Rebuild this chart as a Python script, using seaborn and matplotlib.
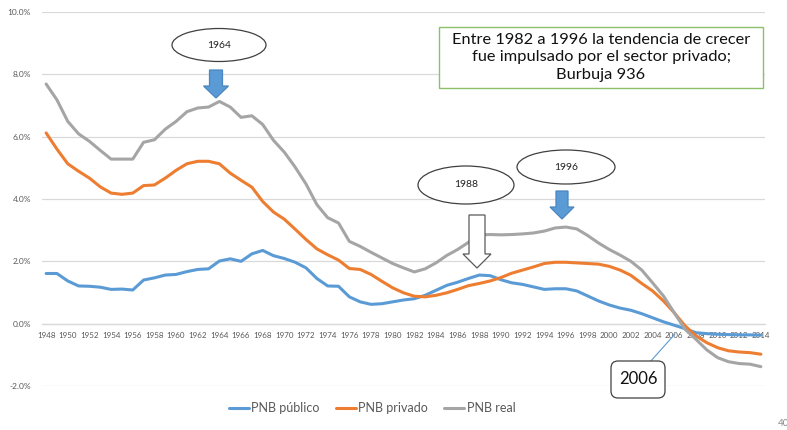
import numpy as np
import pandas as pd
import matplotlib
matplotlib.use("Agg")
import matplotlib.pyplot as plt
from matplotlib.patches import Ellipse, Polygon, Rectangle, FancyBboxPatch
from matplotlib.lines import Line2D
import seaborn as sns

# ---------------- data ----------------
years = list(range(1948, 2015))

pnb_publico = [
    1.61, 1.61, 1.37, 1.21, 1.20, 1.17, 1.10, 1.11, 1.08, 1.40,   # 1948-1957
    1.47, 1.56, 1.58, 1.67, 1.74, 1.76, 2.01, 2.08, 2.00, 2.24,   # 1958-1967
    2.35, 2.18, 2.09, 1.97, 1.79, 1.45, 1.21, 1.20, 0.86, 0.70,   # 1968-1977
    0.62, 0.64, 0.70, 0.76, 0.80, 0.91, 1.07, 1.23, 1.33, 1.45,   # 1978-1987
    1.56, 1.54, 1.41, 1.31, 1.26, 1.18, 1.10, 1.12, 1.12, 1.05,   # 1988-1997
    0.89, 0.73, 0.60, 0.50, 0.43, 0.32, 0.19, 0.06, -0.05, -0.16, # 1998-2007
    -0.29, -0.32, -0.34, -0.35, -0.36, -0.36, -0.37,              # 2008-2014
]
pnb_privado = [
    6.12, 5.60, 5.13, 4.89, 4.67, 4.39, 4.19, 4.15, 4.19, 4.43,
    4.45, 4.67, 4.92, 5.13, 5.21, 5.21, 5.13, 4.83, 4.60, 4.38,
    3.92, 3.58, 3.35, 3.03, 2.70, 2.40, 2.21, 2.04, 1.77, 1.74,
    1.58, 1.36, 1.15, 0.99, 0.88, 0.86, 0.91, 0.99, 1.10, 1.22,
    1.29, 1.37, 1.48, 1.62, 1.72, 1.82, 1.93, 1.97, 1.97, 1.95,
    1.93, 1.91, 1.84, 1.72, 1.55, 1.29, 1.05, 0.73, 0.35, -0.07,
    -0.39, -0.61, -0.77, -0.87, -0.91, -0.93, -0.98,
]
pnb_real = [
    7.69, 7.18, 6.49, 6.09, 5.85, 5.56, 5.28, 5.28, 5.28, 5.82,
    5.90, 6.24, 6.49, 6.80, 6.92, 6.95, 7.13, 6.95, 6.62, 6.67,
    6.39, 5.88, 5.50, 5.02, 4.48, 3.82, 3.40, 3.23, 2.64, 2.48,
    2.29, 2.11, 1.93, 1.79, 1.66, 1.76, 1.95, 2.19, 2.38, 2.61,
    2.85, 2.86, 2.85, 2.86, 2.88, 2.91, 2.97, 3.07, 3.10, 3.04,
    2.83, 2.59, 2.38, 2.20, 2.00, 1.72, 1.31, 0.89, 0.35, -0.18,
    -0.50, -0.84, -1.09, -1.22, -1.28, -1.30, -1.38,
]
series_names = ["PNB público", "PNB privado", "PNB real"]
series_colors = ["#5B9BD5", "#ED7D31", "#A5A5A5"]
y_ticks = [-2, 0, 2, 4, 6, 8, 10]
x_ticks = list(range(1948, 2015, 2))

box_text = "Entre 1982 a 1996 la tendencia de crecer\nfue impulsado por el sector privado;\nBurbuja 936"

# ---------------- figure ----------------
sns.set_theme(style="white")
plt.rcParams["font.family"] = ["Lato", "DejaVu Sans"]

W, H = 787, 430
fig = plt.figure(figsize=(W / 100, H / 100), dpi=100)
ax = fig.add_axes([42 / W, 1 - 386 / H, (765 - 42) / W, (386 - 12) / H])

df = pd.DataFrame({
    "year": years * 3,
    "value": pnb_publico + pnb_privado + pnb_real,
    "serie": [series_names[0]] * len(years) + [series_names[1]] * len(years)
             + [series_names[2]] * len(years),
})
sns.lineplot(data=df, x="year", y="value", hue="serie", hue_order=series_names,
             palette=series_colors, linewidth=2.2, ax=ax, legend=False, zorder=3)

# spine position first (it resets the ticks)
for s in ["top", "right", "left"]:
    ax.spines[s].set_visible(False)
ax.spines["bottom"].set_position(("data", 0))
ax.spines["bottom"].set_color("#D9D9D9")
ax.spines["bottom"].set_linewidth(0.9)

ax.set_xlim(1947.62, 2014.38)
ax.set_ylim(-2, 10)
ax.set_yticks(y_ticks)
ax.set_yticklabels([f"{v:.1f}%" for v in y_ticks], fontsize=6, color="#595959")
ax.set_xticks(x_ticks)
ax.set_xticklabels([str(v) for v in x_ticks], fontsize=5.8, color="#595959")
ax.set_xlabel("")
ax.set_ylabel("")
ax.grid(axis="y", color="#D9D9D9", linewidth=0.9)
ax.grid(axis="x", visible=False)
ax.tick_params(axis="both", length=0)
ax.tick_params(axis="x", pad=6)
ax.tick_params(axis="y", pad=8)

# legend
handles = [Line2D([0], [0], color=c, lw=2.2) for c in series_colors]
fig.legend(handles, series_names, loc="center", bbox_to_anchor=(372 / W, 1 - 408 / H),
           ncol=3, frameon=False, fontsize=9, handlelength=1.6, handletextpad=0.2,
           columnspacing=1.3, labelcolor="#595959")

# ---------------- annotations (pixel coords via inches) ----------------
T = fig.dpi_scale_trans


def P(x, y):
    return (x / 100, (H - y) / 100)


def ellipse(cx, cy, w, h, label):
    e = Ellipse(P(cx, cy), w / 100, h / 100, transform=T, facecolor="white",
                edgecolor="#404040", lw=0.9, zorder=10)
    fig.add_artist(e)
    fig.text(*P(cx, cy), label, transform=T, ha="center", va="center",
             fontsize=7.5, color="#222222", zorder=11)


def block_arrow(cx, top, tip, shaft_w, head_w, head_start, fc, ec):
    pts = [P(cx - shaft_w / 2, top), P(cx + shaft_w / 2, top),
           P(cx + shaft_w / 2, head_start), P(cx + head_w / 2, head_start),
           P(cx, tip), P(cx - head_w / 2, head_start), P(cx - shaft_w / 2, head_start)]
    fig.add_artist(Polygon(pts, closed=True, transform=T, facecolor=fc,
                           edgecolor=ec, lw=0.9, zorder=10))


ellipse(219, 45, 94, 33, "1964")
block_arrow(216, 70, 98, 13, 25, 86, "#5B9BD5", "#4A86C0")

ellipse(466, 185, 96, 38, "1988")
block_arrow(477, 215, 268, 16, 28, 254, "white", "#595959")

ellipse(566, 167, 98, 34, "1996")
block_arrow(562, 191, 219, 12, 24, 207, "#5B9BD5", "#4A86C0")

# green text box
x0, y0, x1, y1 = 439, 27, 763, 88
fig.add_artist(Rectangle(P(x0, y1), (x1 - x0) / 100, (y1 - y0) / 100, transform=T,
                         facecolor="white", edgecolor="#8CC06A", lw=1.0, zorder=10))
fig.text(*P((x0 + x1) / 2, (y0 + y1) / 2), box_text, transform=T, ha="center",
         va="center", fontsize=11.8, color="#111111", linespacing=1.33, zorder=11)

# 2006 callout
fig.add_artist(Line2D([650 / 100, 675 / 100], [(H - 362) / 100, (H - 334) / 100],
                      transform=T, color="#5B9BD5", lw=0.8, zorder=9))
bx0, by0, bx1, by1 = 611, 361, 665, 398
fig.add_artist(FancyBboxPatch(P(bx0, by1), (bx1 - bx0) / 100, (by1 - by0) / 100,
                              boxstyle="round,pad=0,rounding_size=0.07", transform=T,
                              facecolor="white", edgecolor="#404040", lw=0.9, zorder=10))
fig.text(*P((bx0 + bx1) / 2, (by0 + by1) / 2), "2006", transform=T, ha="center",
         va="center", fontsize=12, color="#111111", zorder=11)

# page number (cut at the edge, as in the reference)
fig.text(*P(778, 424), "40", transform=T, ha="left", va="center", fontsize=7,
         color="#888888")

fig.savefig("out.png", dpi=100)
